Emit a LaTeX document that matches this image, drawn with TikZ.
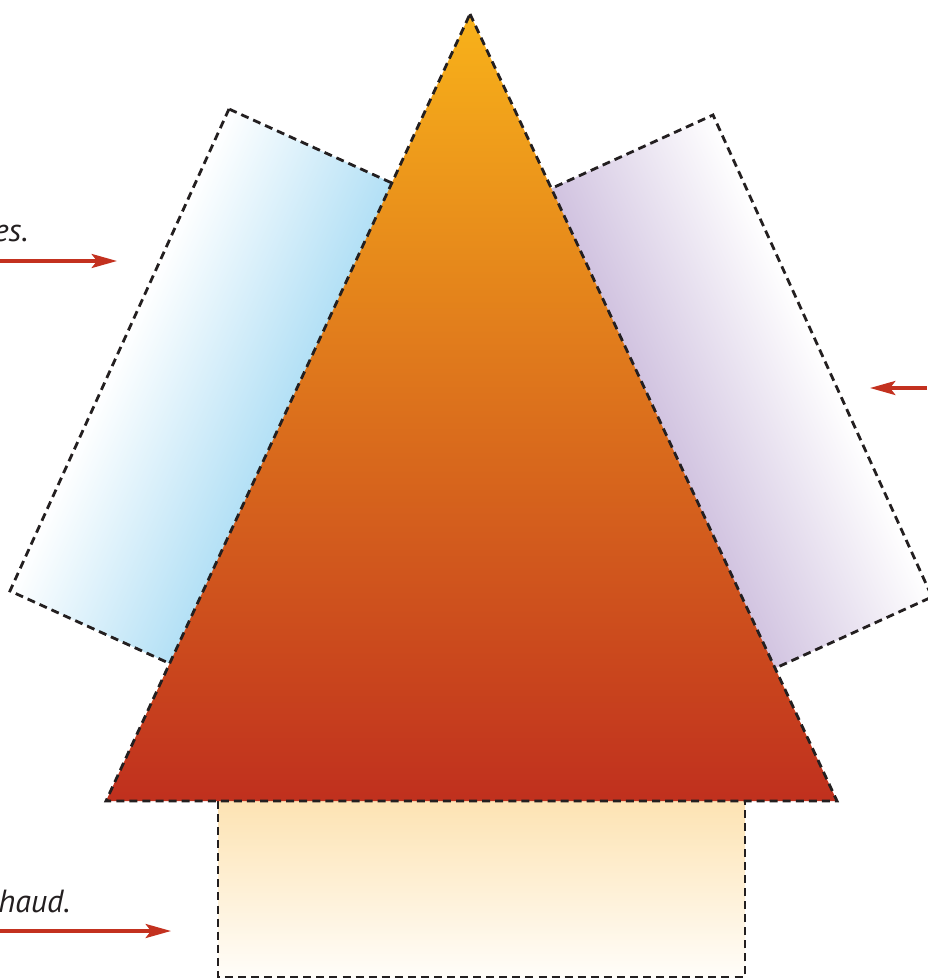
\documentclass[tikz,border=0pt]{standalone}
\usepackage{fontspec}
\setmainfont{PT Sans}
\usetikzlibrary{arrows.meta}
\definecolor{arrowred}{HTML}{C3311F}
\definecolor{dashcol}{HTML}{231F20}
\definecolor{skyb}{HTML}{A9DCF4}
\definecolor{lavend}{HTML}{CBBBDC}
\definecolor{tritop}{HTML}{F8B21A}
\definecolor{trimid}{HTML}{DD791D}
\definecolor{tribot}{HTML}{C0301E}
\definecolor{basetop}{HTML}{FDE3B3}
\definecolor{basebot}{HTML}{FFFDF9}
\definecolor{txt}{HTML}{231F20}
\tikzset{
  dashbox/.style={draw=dashcol,line width=2.1pt,dash pattern=on 6pt off 3.8pt},
  redarrow/.style={draw=arrowred,line width=2.6pt,-{Stealth[length=19pt,width=10.5pt,inset=4pt]}},
  label/.style={font=\fontsize{24}{28}\selectfont\itshape,text=txt,inner sep=0pt}
}
\begin{document}
\begin{tikzpicture}[x=0.75pt,y=-0.75pt]
\useasboundingbox (0,0) rectangle (927,980);
% left tilted panel
\begin{scope}[transform canvas={shift={(229,109)},rotate=-24.44}]
  \shade[left color=white,right color=skyb] (0,0) rectangle (200,529.4);
  \draw[dashbox] (0,0) rectangle (200,529.4);
\end{scope}
% right tilted panel
\begin{scope}[transform canvas={shift={(713,115)},rotate=24.44}]
  \shade[left color=lavend,right color=white] (-200,0) rectangle (0,529.4);
  \draw[dashbox] (-200,0) rectangle (0,529.4);
\end{scope}
% bottom panel
\coordinate (bl) at (218,801);
\coordinate (br) at (745,977);
\shade[top color=basetop,bottom color=basebot] (bl) rectangle (br);
\draw[dashbox] (218,801) -- (218,977) -- (745,977) -- (745,801);
% triangle
\coordinate (apex) at (470,14);
\coordinate (tr) at (837,801);
\coordinate (tl) at (106,801);
\shade[top color=tritop,middle color=trimid,bottom color=tribot] (apex) -- (tr) -- (tl) -- cycle;
\draw[dashbox] (apex) -- (tr) -- (tl) -- cycle;
% labels and arrows
\node[label,anchor=base east] (t1) at (28.5,241.5) {es.};
\node[label,anchor=base east] (t2) at (70.5,912.5) {chaud.};
\coordinate (a1s) at (0,261);
\coordinate (a1e) at (117,261);
\draw[redarrow] (a1s) -- (a1e);
\coordinate (a2s) at (927,388);
\coordinate (a2e) at (870,388);
\draw[redarrow] (a2s) -- (a2e);
\coordinate (a3s) at (0,931);
\coordinate (a3e) at (171,931);
\draw[redarrow] (a3s) -- (a3e);
\end{tikzpicture}
\end{document}
